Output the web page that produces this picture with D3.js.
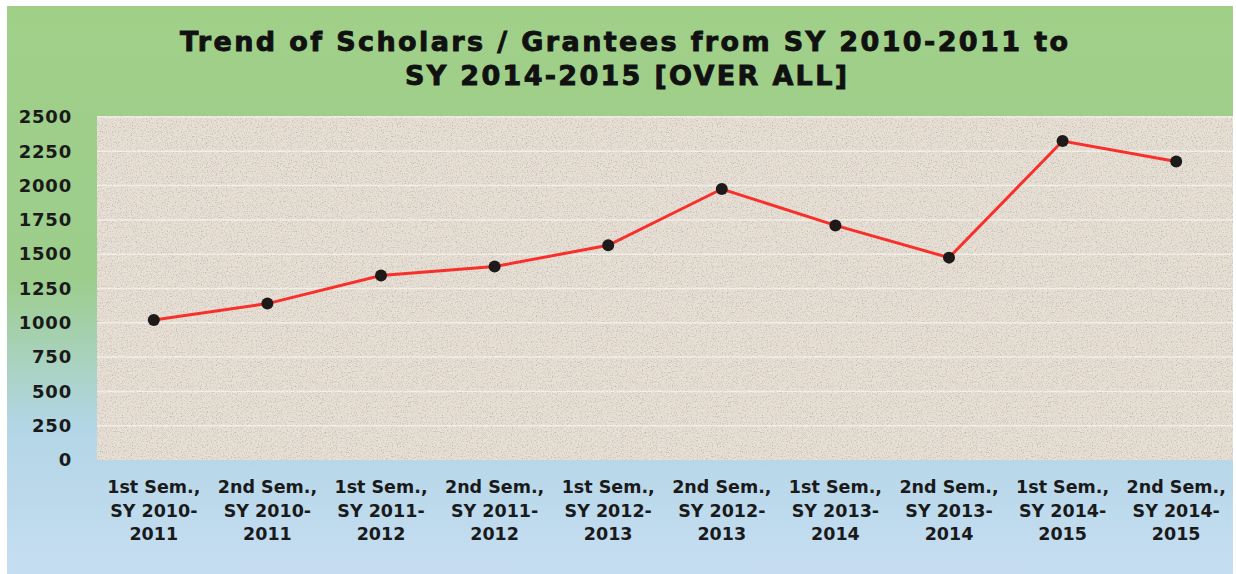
<!DOCTYPE html>
<meta charset="utf-8">
<style>
body { margin: 0; background: #fff; }
.axis text { font: bold 17.5px "DejaVu Sans", sans-serif; fill: #1a1a1a; }
.ylab text { font-size: 18px; letter-spacing: 0.8px; }
.title { font: bold 27px "DejaVu Sans", sans-serif; fill: #111; stroke: #111; stroke-width: 0.9px; }
</style>
<svg width="1236" height="574"></svg>
<script src="https://d3js.org/d3.v7.min.js"></script>
<script>

// data
var categories = ["1st Sem., SY 2010-2011", "2nd Sem., SY 2010-2011", "1st Sem., SY 2011-2012",
  "2nd Sem., SY 2011-2012", "1st Sem., SY 2012-2013", "2nd Sem., SY 2012-2013",
  "1st Sem., SY 2013-2014", "2nd Sem., SY 2013-2014", "1st Sem., SY 2014-2015",
  "2nd Sem., SY 2014-2015"];
var labelLines = [
  ["1st Sem.,", "SY 2010-", "2011"], ["2nd Sem.,", "SY 2010-", "2011"],
  ["1st Sem.,", "SY 2011-", "2012"], ["2nd Sem.,", "SY 2011-", "2012"],
  ["1st Sem.,", "SY 2012-", "2013"], ["2nd Sem.,", "SY 2012-", "2013"],
  ["1st Sem.,", "SY 2013-", "2014"], ["2nd Sem.,", "SY 2013-", "2014"],
  ["1st Sem.,", "SY 2014-", "2015"], ["2nd Sem.,", "SY 2014-", "2015"]];
var scholars = [1020, 1140, 1345, 1410, 1565, 1975, 1710, 1475, 2325, 2175];
var yTicks = [0, 250, 500, 750, 1000, 1250, 1500, 1750, 2000, 2250, 2500];
var titleLines = ["Trend of Scholars / Grantees from SY 2010-2011 to", "SY 2014-2015 [OVER ALL]"];

var svg = d3.select("svg");
var defs = svg.append("defs");

// background gradient green -> blue
var bg = defs.append("linearGradient").attr("id", "bg")
  .attr("x1", 0).attr("y1", 0).attr("x2", 0).attr("y2", 1);
bg.append("stop").attr("offset", "0%").attr("stop-color", "#a0d088");
bg.append("stop").attr("offset", "48%").attr("stop-color", "#9ccd8c");
bg.append("stop").attr("offset", "74%").attr("stop-color", "#b3d6e6");
bg.append("stop").attr("offset", "100%").attr("stop-color", "#c6ddf2");

// speckled paper texture
var f = defs.append("filter").attr("id", "paper").attr("x", 0).attr("y", 0).attr("width", 1).attr("height", 1);
f.append("feTurbulence").attr("type", "fractalNoise").attr("baseFrequency", 0.8)
  .attr("numOctaves", 2).attr("seed", 3).attr("result", "noise");
f.append("feColorMatrix").attr("in", "noise").attr("type", "matrix")
  .attr("values", "0 0 0 0 0.5  0 0 0 0 0.47  0 0 0 0 0.43  0 0 0 -2.6 1.35")
  .attr("result", "specks");
f.append("feComposite").attr("in", "specks").attr("in2", "SourceGraphic").attr("operator", "atop");

svg.append("rect").attr("x", 7).attr("y", 6).attr("width", 1226).attr("height", 568)
  .attr("fill", "url(#bg)");

var margin = {left: 97, top: 116, right: 1233, bottom: 460};

var x = d3.scaleBand().domain(categories).range([margin.left, margin.right]);
var y = d3.scaleLinear().domain([0, 2500]).range([margin.bottom, margin.top + 1]);

// plot area
svg.append("rect")
  .attr("x", margin.left).attr("y", margin.top)
  .attr("width", margin.right - margin.left).attr("height", margin.bottom - margin.top)
  .attr("fill", "#e8e0d5").attr("filter", "url(#paper)");

// gridlines
svg.append("g").selectAll("line").data(yTicks.slice(1)).enter().append("line")
  .attr("x1", margin.left).attr("x2", margin.right)
  .attr("y1", function(d) { return y(d); }).attr("y2", function(d) { return y(d); })
  .attr("stroke", "#fff").attr("stroke-opacity", 0.5).attr("stroke-width", 1.5);

// y axis
var yAxis = svg.append("g").attr("class", "axis ylab")
  .attr("transform", "translate(72,0)")
  .call(d3.axisLeft(y).tickValues(yTicks).tickSize(0).tickPadding(0).tickFormat(d3.format("d")));
yAxis.select(".domain").remove();

// x axis labels (3 lines)
var xAxis = svg.append("g").attr("class", "axis")
  .attr("transform", "translate(0," + margin.bottom + ")")
  .call(d3.axisBottom(x).tickSize(0).tickFormat(""));
xAxis.select(".domain").remove();
xAxis.selectAll(".tick").each(function(d, i) {
  var t = d3.select(this).append("text").attr("text-anchor", "middle").attr("y", 33);
  labelLines[i].forEach(function(s, j) {
    t.append("tspan").attr("x", 0).attr("dy", j === 0 ? 0 : 23.5).text(s);
  });
});

// line
var line = d3.line()
  .x(function(d, i) { return x(categories[i]) + x.bandwidth() / 2; })
  .y(function(d) { return y(d); });

svg.append("path").datum(scholars)
  .attr("d", line).attr("fill", "none")
  .attr("stroke", "#f8302c").attr("stroke-width", 3);

svg.append("g").selectAll("circle").data(scholars).enter().append("circle")
  .attr("cx", function(d, i) { return x(categories[i]) + x.bandwidth() / 2; })
  .attr("cy", function(d) { return y(d); })
  .attr("r", 6).attr("fill", "#1e1a1a");

// title
svg.append("text").attr("class", "title").attr("x", 624).attr("y", 51)
  .attr("text-anchor", "middle").attr("textLength", 888).attr("lengthAdjust", "spacing")
  .text(titleLines[0]);
svg.append("text").attr("class", "title").attr("x", 626).attr("y", 85)
  .attr("text-anchor", "middle").attr("textLength", 442).attr("lengthAdjust", "spacing")
  .text(titleLines[1]);

</script>
